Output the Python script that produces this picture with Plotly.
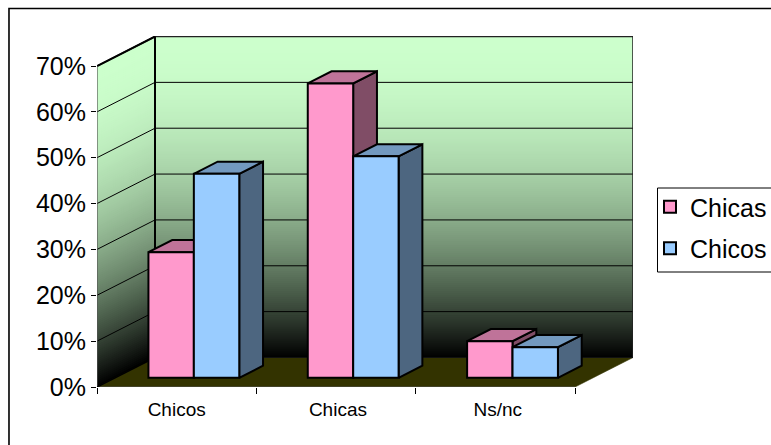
import plotly.graph_objects as go

# ---- data ----
categories = ["Chicos", "Chicas", "Ns/nc"]
series_names = ["Chicas", "Chicos"]
chicas_values = [27.4, 64.2, 8.0]
chicos_values = [44.5, 48.3, 6.7]
y_ticks = [0, 10, 20, 30, 40, 50, 60, 70]
y_tick_labels = ["0%", "10%", "20%", "30%", "40%", "50%", "60%", "70%"]

# ---- style / projection (in axis units) ----
W, H = 840, 445                        # wider than the window: the legend box runs off the edge
L, R, T, B = 97, 633, 36, 387          # plot area in pixels
PX_PER_CAT = (575 - 97) / 3
PX_PER_PCT = (387 - 66) / 70
DX = 58 / PX_PER_CAT                   # depth of the floor
DY = 29.5 / PX_PER_PCT
XMAX = (R - L) / PX_PER_CAT
YMAX = (B - T) / PX_PER_PCT
FRONT = 0.31                           # where bars start in depth
BAR_DEPTH = 0.41
GAP = 0.21
BAR_W = 0.285
pink = ("#FF99CC", "#BF7399", "#804D66")
blue = ("#99CCFF", "#7399BF", "#4D6680")
N_BANDS = 160


def wall_color(f):
    s = 1 - f ** 2
    return "rgb(%d,%d,%d)" % (round(204 * s), round(255 * s), round(204 * s))


def quad(pts):
    return "M" + "L".join("%.5f,%.5f" % p for p in pts) + "Z"


shapes = []
top = y_ticks[-1]
# painted top to bottom, every band reaching down to the floor, so no seams show
for i in range(N_BANDS):
    f0, f1 = i / N_BANDS, (i + 1) / N_BANDS
    v1 = top * (1 - f0)
    c = wall_color((f0 + f1) / 2)
    shapes.append(dict(type="path", layer="below", xref="x", yref="y",
                       path=quad([(DX, DY), (3 + DX, DY), (3 + DX, v1 + DY), (DX, v1 + DY)]),
                       fillcolor=c, line=dict(width=0)))
    shapes.append(dict(type="path", layer="below", xref="x", yref="y",
                       path=quad([(0, 0), (DX, DY), (DX, v1 + DY), (0, v1)]),
                       fillcolor=c, line=dict(width=0)))
# floor
shapes.append(dict(type="path", layer="below", xref="x", yref="y",
                   path=quad([(0, 0), (3, 0), (3 + DX, DY), (DX, DY)]),
                   fillcolor="#333300", line=dict(color="#333300", width=0.6)))


def to_paper_x(px):
    return (px - L) / (R - L)


def to_paper_y(px):
    return (B - px) / (B - T)


# outer chart frame (only top and left visible)
shapes.append(dict(type="path", xref="paper", yref="paper", layer="above",
                   path="M%.4f,%.4fL%.4f,%.4fL%.4f,%.4f" % (
                       to_paper_x(9), to_paper_y(460), to_paper_x(9), to_paper_y(8.5),
                       to_paper_x(830), to_paper_y(8.5)),
                   line=dict(color="black", width=1.6)))
# legend frame (runs off the right edge of the window)
shapes.append(dict(type="rect", xref="paper", yref="paper", layer="above",
                   x0=to_paper_x(657.5), x1=to_paper_x(830),
                   y0=to_paper_y(272), y1=to_paper_y(188),
                   line=dict(color="black", width=1)))

fig = go.Figure()


def line(xs, ys, width=1, color="black"):
    fig.add_trace(go.Scatter(x=xs, y=ys, mode="lines", showlegend=False, hoverinfo="skip",
                             line=dict(color=color, width=width)))


def face(xs, ys, color):
    fig.add_trace(go.Scatter(x=xs + xs[:1], y=ys + ys[:1], mode="lines", fill="toself",
                             fillcolor=color, showlegend=False, hoverinfo="skip",
                             line=dict(color="black", width=2)))


# gridlines on the walls
for v in y_ticks[1:-1]:
    line([0, DX, 3 + DX], [v, v + DY, v + DY], 1)
# wall edges
line([0, DX, 3 + DX, 3 + DX], [top, top + DY, top + DY, DY], 1.5, "#222222")
line([0, DX], [top, top + DY], 2)
line([DX, DX], [DY, top + DY], 2)
line([0, 0], [0, top], 1.2, "#555555")
line([0, 3], [0, 0], 1.2, "#555555")
line([0, DX], [0, DY], 1.5)
line([DX, 3 + DX], [DY, DY], 1, "#111111")

base = FRONT * DY
dxf = FRONT * DX
bdx, bdy = BAR_DEPTH * DX, BAR_DEPTH * DY

bar_x = [[], []]
for s, (vals, cols) in enumerate([(chicas_values, pink), (chicos_values, blue)]):
    for c, v in enumerate(vals):
        x0 = c + dxf + GAP + s * BAR_W
        x1 = x0 + BAR_W
        bar_x[s].append((x0 + x1) / 2)
        ytop = base + v
        # right side and top faces
        face([x1, x1 + bdx, x1 + bdx, x1], [base, base + bdy, ytop + bdy, ytop], cols[2])
        face([x0, x1, x1 + bdx, x0 + bdx], [ytop, ytop, ytop + bdy, ytop + bdy], cols[1])

# front faces: real bars, on an overlaying pair of axes so they sit on top
for s, (name, vals, cols) in enumerate([(series_names[0], chicas_values, pink),
                                        (series_names[1], chicos_values, blue)]):
    fig.add_trace(go.Bar(x=bar_x[s], y=vals, base=base, width=BAR_W, name=name,
                         legendgroup=name, xaxis="x2", yaxis="y2",
                         marker=dict(color=cols[0], line=dict(color="black", width=2))))

fig.update_layout(
    width=W, height=H, autosize=False,
    margin=dict(l=L, r=W - R, t=T, b=H - B, pad=0),
    paper_bgcolor="white", plot_bgcolor="rgba(0,0,0,0)",
    font=dict(family="Liberation Sans, Arial, sans-serif", color="black"),
    barmode="overlay",
    shapes=shapes,
    showlegend=True,
    legend=dict(x=to_paper_x(650), y=to_paper_y(184), xanchor="left", yanchor="top",
                bgcolor="rgba(0,0,0,0)", borderwidth=0,
                font=dict(size=25), tracegroupgap=6, traceorder="grouped"),
    xaxis=dict(range=[0, XMAX], showgrid=False, zeroline=False, showline=False,
               tickmode="array", tickvals=[0.5, 1.512, 2.515], ticktext=categories,
               ticks="", tickfont=dict(size=19), ticklabelstandoff=9,
               minor=dict(tickmode="array", tickvals=[0, 1, 2, 3], ticks="outside",
                          ticklen=6, tickcolor="black", tickwidth=1)),
    yaxis=dict(range=[0, YMAX], showgrid=False, zeroline=False, showline=False,
               tickmode="array", tickvals=y_ticks, ticktext=y_tick_labels, ticks="outside",
               ticklen=5, tickcolor="black", tickwidth=1, tickfont=dict(size=25)),
    xaxis2=dict(range=[0, XMAX], overlaying="x", visible=False),
    yaxis2=dict(range=[0, YMAX], overlaying="y", visible=False),
)

fig.write_html("out.html", config=dict(displayModeBar=False), post_script=(
    "document.body.style.margin='0';"
    "document.body.style.overflow='hidden';"
    "document.documentElement.style.overflow='hidden';"))
